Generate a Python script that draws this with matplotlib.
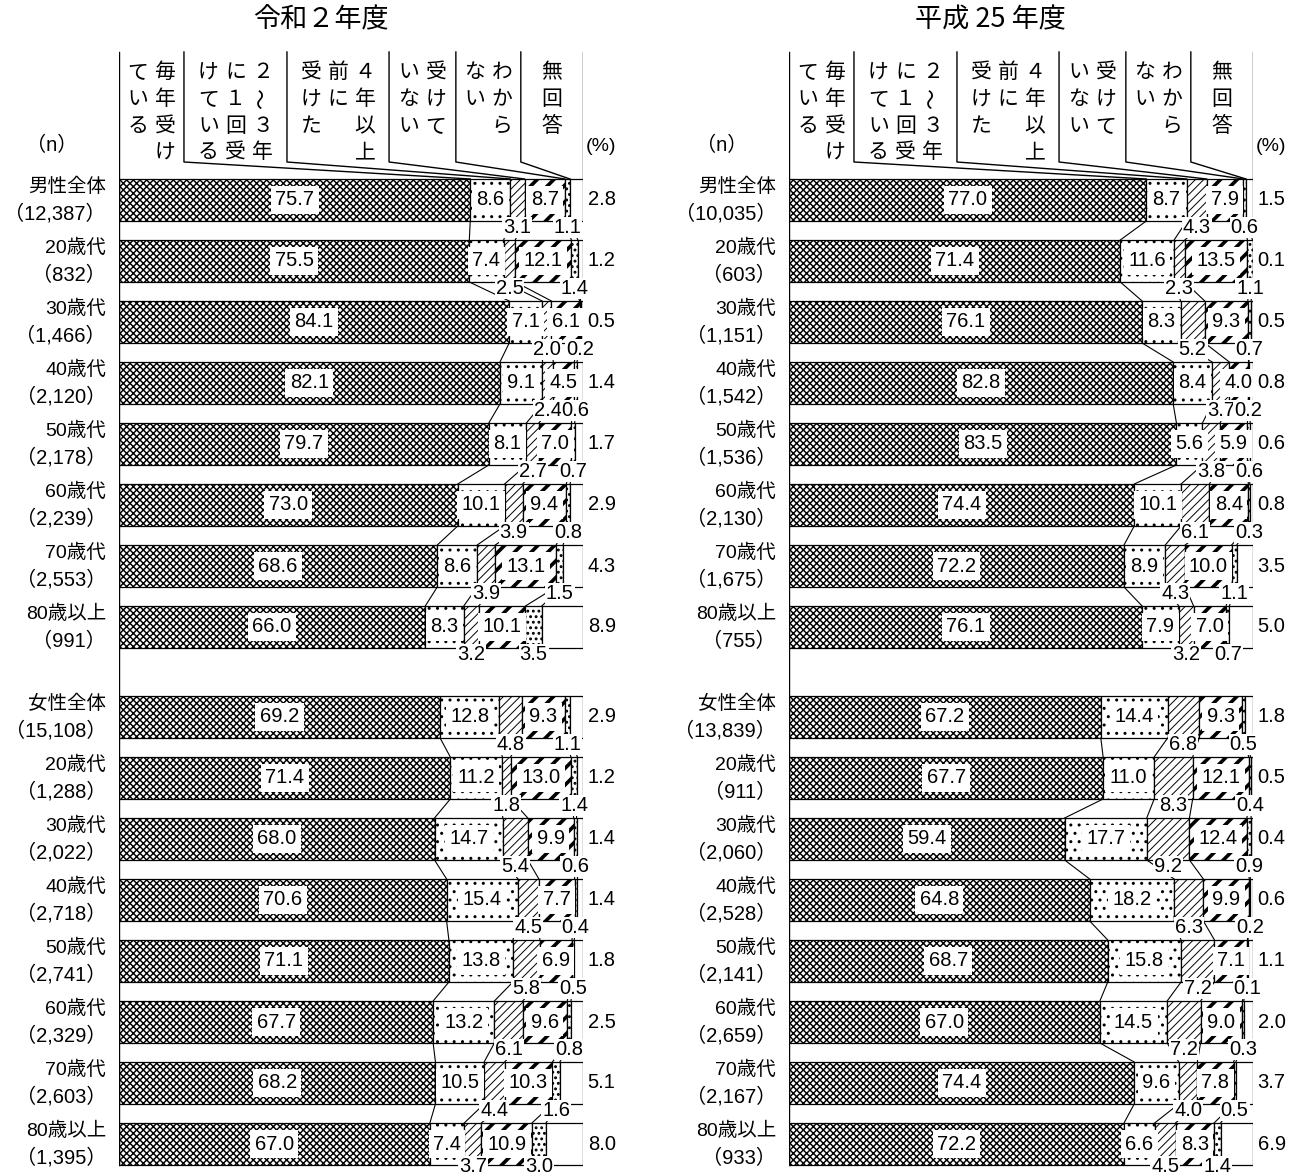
import numpy as np
import matplotlib.pyplot as plt

plt.rcParams['font.family'] = ['Liberation Sans Narrow', 'Liberation Sans', 'Noto Sans CJK JP']

# 回答区分（縦書きの見出しは右の列から順に）
categories = ['毎年受けている', '2～3年に1回受けている', '4年以上前に受けた',
              '受けていない', 'わからない', '無回答']
header_cols = [['毎年受け', 'ている'],
               ['２～３年', 'に１回受', 'けている'],
               ['４年以上', '前に', '受けた'],
               ['受けて', 'いない'],
               ['わから', 'ない'],
               ['無回答']]

groups = ['男性全体', '20歳代', '30歳代', '40歳代', '50歳代', '60歳代', '70歳代', '80歳以上',
          '女性全体', '20歳代', '30歳代', '40歳代', '50歳代', '60歳代', '70歳代', '80歳以上']

# 令和2年度
r2_n = ['12,387', '832', '1,466', '2,120', '2,178', '2,239', '2,553', '991',
        '15,108', '1,288', '2,022', '2,718', '2,741', '2,329', '2,603', '1,395']
r2_every = [75.7, 75.5, 84.1, 82.1, 79.7, 73.0, 68.6, 66.0,
            69.2, 71.4, 68.0, 70.6, 71.1, 67.7, 68.2, 67.0]
r2_2to3 = [8.6, 7.4, 7.1, 9.1, 8.1, 10.1, 8.6, 8.3,
           12.8, 11.2, 14.7, 15.4, 13.8, 13.2, 10.5, 7.4]
r2_4plus = [3.1, 2.5, 2.0, 2.4, 2.7, 3.9, 3.9, 3.2,
            4.8, 1.8, 5.4, 4.5, 5.8, 6.1, 4.4, 3.7]
r2_never = [8.7, 12.1, 6.1, 4.5, 7.0, 9.4, 13.1, 10.1,
            9.3, 13.0, 9.9, 7.7, 6.9, 9.6, 10.3, 10.9]
r2_unknown = [1.1, 1.4, 0.2, 0.6, 0.7, 0.8, 1.5, 3.5,
              1.1, 1.4, 0.6, 0.4, 0.5, 0.8, 1.6, 3.0]
r2_noans = [2.8, 1.2, 0.5, 1.4, 1.7, 2.9, 4.3, 8.9,
            2.9, 1.2, 1.4, 1.4, 1.8, 2.5, 5.1, 8.0]

# 平成25年度
h25_n = ['10,035', '603', '1,151', '1,542', '1,536', '2,130', '1,675', '755',
         '13,839', '911', '2,060', '2,528', '2,141', '2,659', '2,167', '933']
h25_every = [77.0, 71.4, 76.1, 82.8, 83.5, 74.4, 72.2, 76.1,
             67.2, 67.7, 59.4, 64.8, 68.7, 67.0, 74.4, 72.2]
h25_2to3 = [8.7, 11.6, 8.3, 8.4, 5.6, 10.1, 8.9, 7.9,
            14.4, 11.0, 17.7, 18.2, 15.8, 14.5, 9.6, 6.6]
h25_4plus = [4.3, 2.3, 5.2, 3.7, 3.8, 6.1, 4.3, 3.2,
             6.8, 8.3, 9.2, 6.3, 7.2, 7.2, 4.0, 4.5]
h25_never = [7.9, 13.5, 9.3, 4.0, 5.9, 8.4, 10.0, 7.0,
             9.3, 12.1, 12.4, 9.9, 7.1, 9.0, 7.8, 8.3]
h25_unknown = [0.6, 1.1, 0.7, 0.2, 0.6, 0.3, 1.1, 0.7,
               0.5, 0.4, 0.9, 0.2, 0.1, 0.3, 0.5, 1.4]
h25_noans = [1.5, 0.1, 0.5, 0.8, 0.6, 0.8, 3.5, 5.0,
             1.8, 0.5, 0.4, 0.6, 1.1, 2.0, 3.7, 6.9]

# 模様（毎年, 2～3年, 4年以上, 受けていない, わからない, 無回答）
hatches = ['xxxxx', '..', '////', '//', '...', None]
hatch_lw = [1.05, 1.0, 0.7, 2.6, 1.3, 1.0]
label_pos = ['in', 'in', 'below', 'in', 'below', 'right']

W, H = 1302, 1174
ROW = 61.0          # 行の間隔(px)
Y0 = 200.0          # 先頭の棒の中心(px)
PX = 4.64           # 1%あたりのpx
BAR_H = 42 / ROW


def ypx(p):
    return (p - Y0) / ROW


rows = [i for i in range(8)] + [517 / ROW + i for i in range(8)]
box = dict(boxstyle='square,pad=0.22', fc='white', ec='none')
small_box = dict(boxstyle='square,pad=0.05', fc='white', ec='none')

fig = plt.figure(figsize=(W / 100, H / 100), dpi=100)


def draw_panel(x0, title, n_labels, series):
    ax = fig.add_axes([x0 / W, 0, 100 * PX / W, 1])
    ax.set_xlim(0, 100)
    ax.set_ylim(ypx(H), ypx(0))
    ax.axis('off')

    vals = np.array(series).T
    cum = np.hstack([np.zeros((len(vals), 1)), np.cumsum(vals, axis=1)])

    # 棒
    for k in range(6):
        bars = ax.barh(rows, vals[:, k], left=cum[:, k], height=BAR_H,
                       color='white', edgecolor='black', linewidth=0.9,
                       hatch=hatches[k], zorder=2)
        for b in bars:
            if hasattr(b, 'set_hatch_linewidth'):
                b.set_hatch_linewidth(hatch_lw[k])

    # 区切り線（同じ性別の隣り合う棒の間）
    for g in (range(0, 7), range(8, 15)):
        for i in g:
            for k in range(1, 6):
                ax.plot([cum[i, k], cum[i + 1, k]],
                        [rows[i] + BAR_H / 2, rows[i + 1] - BAR_H / 2],
                        color='black', lw=0.8, zorder=3)

    # 数値ラベル
    for i, r in enumerate(rows):
        below_y = r + BAR_H / 2 + (0.02 if i == len(rows) - 1 else 0.1)
        for k in range(6):
            v = vals[i, k]
            mid = cum[i, k] + v / 2
            if label_pos[k] == 'in':
                ax.text(mid, r, f'{v:.1f}', ha='center', va='center',
                        fontsize=14.5, bbox=box, zorder=5)
            elif label_pos[k] == 'below':
                ax.text(mid, below_y, f'{v:.1f}', ha='center', va='center',
                        fontsize=14.5, bbox=small_box, zorder=5)
            else:
                ax.text(101.0, r, f'{v:.1f}', ha='left', va='center', fontsize=14.5)

    # 行ラベル
    for r, name, n in zip(rows, groups, n_labels):
        ax.text(-2.8, r - 13 / ROW, name, ha='right', va='center', fontsize=14)
        ax.text(-2.8, r + 14 / ROW, f'（{n}）', ha='right', va='center', fontsize=14.5)

    # 見出し
    edges = [0, 14.0, 36.2, 58.2, 72.6, 86.6, 100]
    top, sep_bottom = ypx(52), ypx(162)
    bar_top = rows[0] - BAR_H / 2
    ax.plot([0, 0], [top, rows[-1] + BAR_H / 2], color='black', lw=1.0, zorder=4)
    ax.plot([100, 100], [top, bar_top], color='black', lw=1.0, zorder=4)
    for k in range(1, 6):
        ax.plot([edges[k], edges[k], cum[0, k]], [top, sep_bottom, bar_top],
                color='black', lw=1.0, zorder=4)

    char_rows = [ypx(p) for p in (72, 99, 126, 152)]
    step = 27 / PX
    for k, cols in enumerate(header_cols):
        center = (edges[k] + edges[k + 1]) / 2
        ncol = len(cols)
        for j, txt in enumerate(cols):
            cx = center + (ncol - 1) / 2 * step - j * step
            for m, ch in enumerate(txt):
                rot = 90 if ch == '～' else 0
                ax.text(cx, char_rows[m], ch, ha='center', va='center',
                        fontsize=15, rotation=rot, family='Noto Sans CJK JP')

    ax.text(-14.4, ypx(145), '（n）', ha='center', va='center', fontsize=14.5)
    ax.text(103.9, ypx(147), '(%)', ha='center', va='center', fontsize=14)
    ax.text(43.5, ypx(20), title, ha='center', va='center', fontsize=19.5,
            family='Noto Sans CJK JP')
    return ax


draw_panel(119, '令和２年度', r2_n,
           [r2_every, r2_2to3, r2_4plus, r2_never, r2_unknown, r2_noans])
draw_panel(789, '平成 25 年度', h25_n,
           [h25_every, h25_2to3, h25_4plus, h25_never, h25_unknown, h25_noans])

fig.savefig('out.png', dpi=100, facecolor='white')
